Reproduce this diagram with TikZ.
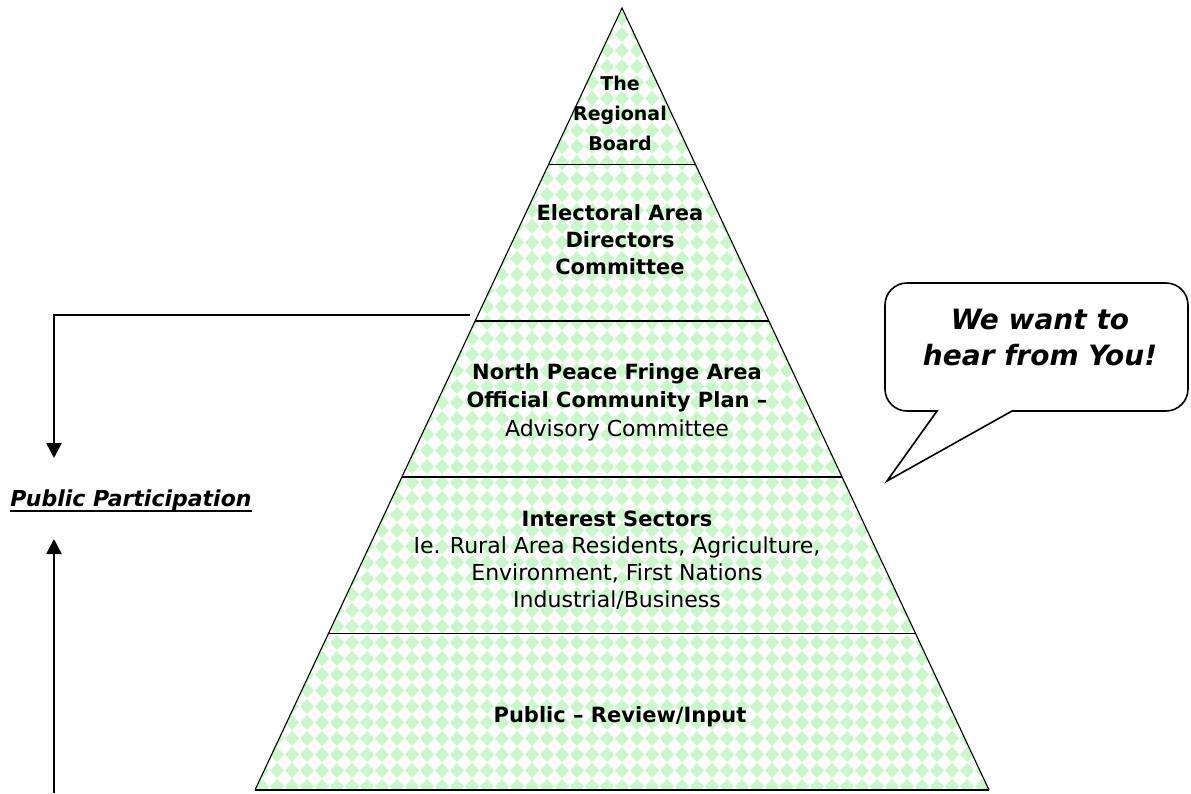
\documentclass[tikz,border=0pt]{standalone}
\usepackage{fontspec}
\setmainfont{DejaVu Sans}
\usetikzlibrary{arrows.meta,calc,patterns}
\definecolor{mint}{HTML}{C8F8C8}
\pgfdeclarepatternformonly{diamonds}{\pgfpointorigin}{\pgfpoint{15pt}{16pt}}{\pgfpoint{15pt}{16pt}}{%
  \pgfpathmoveto{\pgfpoint{7.5pt}{0pt}}%
  \pgfpathlineto{\pgfpoint{15pt}{8pt}}%
  \pgfpathlineto{\pgfpoint{7.5pt}{16pt}}%
  \pgfpathlineto{\pgfpoint{0pt}{8pt}}%
  \pgfpathclose\pgfusepath{fill}}
\newcommand\lite[1]{\mdseries\fontsize{22}{#1}\selectfont}
\tikzset{level/.style={align=center,inner sep=0pt,font=\bfseries\fontsize{21}{27}\selectfont},
  flow/.style={line width=2.5pt,-{Triangle[width=15pt,length=15pt]}},
  divider/.style={line width=1.6pt},
  bubble/.style={line width=1.6pt,fill=white}}

\begin{document}
\begin{tikzpicture}[x=1pt,y=-1pt]
  \useasboundingbox (0,0) rectangle (1191,793);
  \coordinate (apex) at (622,8);
  \coordinate (bl) at (255,790);
  \coordinate (br) at (989,790);
  \fill[pattern=diamonds,pattern color=mint] (apex) -- (bl) -- (br) -- cycle;
  \draw[line width=1.1pt] (bl) -- (apex) -- (br);
  \draw[line width=2pt] (bl) -- (br);
  \foreach \t/\n in {0.2/1,0.4/2,0.6/3,0.8/4}
    \draw[divider] ($(apex)!\t!(bl)$) coordinate (l\n) -- ($(apex)!\t!(br)$) coordinate (r\n);

  \node[level,font=\bfseries\fontsize{19}{30}\selectfont] (board) at (620,113) {The\\Regional\\Board};
  \node[level] (eadc) at (620,240) {Electoral Area\\Directors\\Committee};
  \node[level,font=\bfseries\fontsize{21}{28.5}\selectfont] (ocp) at (617,402)
    {North Peace Fringe Area\\Official Community Plan --\\\lite{28.5}Advisory Committee};
  \node[level] (sect) at (617,560) {Interest Sectors\\\lite{27}Ie. Rural Area Residents, Agriculture,\\
    \lite{27}Environment, First Nations\\\lite{27}Industrial/Business};
  \node[level] (pub) at (620,717) {Public -- Review/Input};

  \draw[bubble] (1036,283) [rounded corners=22] -- (885,283) -- (885,411) [sharp corners] -- (937,411)
    -- (887,481) -- (1012,411) [rounded corners=22] -- (1188,411) -- (1188,283) -- cycle;
  \node[align=center,font=\bfseries\itshape\fontsize{28}{36}\selectfont] (hear) at (1040,337)
    {We want to\\hear from You!};

  \node[font=\bfseries\itshape\fontsize{22}{24}\selectfont,inner sep=0pt] (pp) at (131,500)
    {Public Participation};
  \draw[line width=2pt] ([yshift=-5pt]pp.base west) -- ([yshift=-5pt]pp.base east);
  \coordinate (tap) at (470,315);
  \coordinate (bend) at (54,315);
  \coordinate (down) at (54,458);
  \coordinate (up) at (54,539);
  \coordinate (foot) at (54,793);
  \draw[flow] (tap) -- (bend) -- (down);
  \draw[flow] (foot) -- (up);
\end{tikzpicture}
\end{document}
